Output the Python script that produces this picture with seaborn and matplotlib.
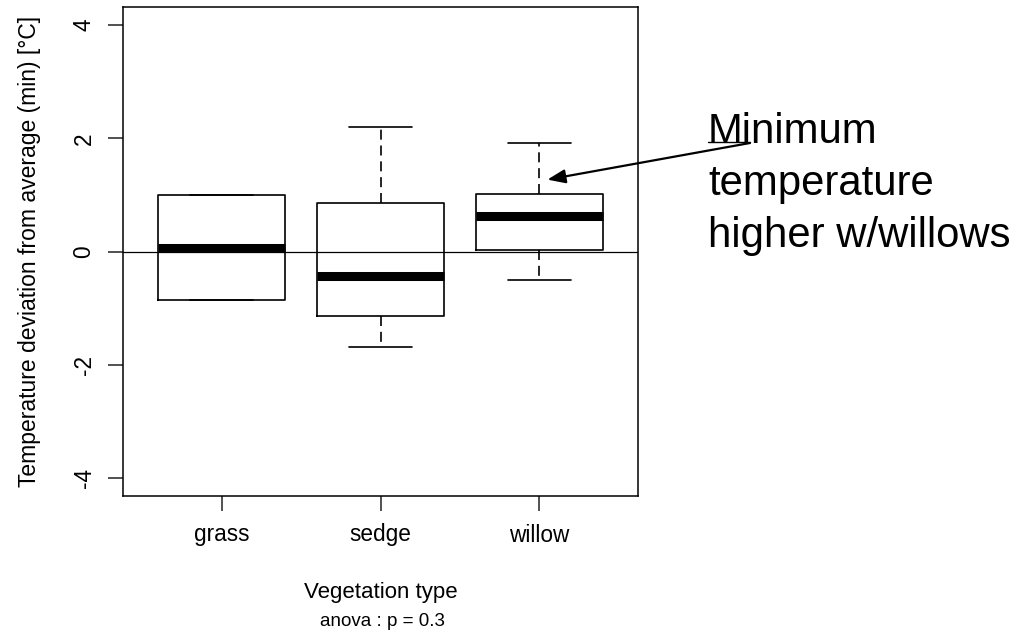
import matplotlib
matplotlib.use("Agg")
import matplotlib.pyplot as plt
from matplotlib.lines import Line2D
import seaborn as sns
import pandas as pd
import numpy as np

# Five-number summaries (min, Q1, median, Q3, max)
categories = ["grass", "sedge", "willow"]
grass = [-0.86, -0.86, 0.07, 1.00, 1.00]
sedge = [-1.69, -1.14, -0.44, 0.85, 2.20]
willow = [-0.51, 0.02, 0.62, 1.02, 1.92]
yticks = [-4, -2, 0, 2, 4]

df = pd.DataFrame({
    "veg": np.repeat(categories, 5),
    "value": grass + sedge + willow,
})

sns.set_theme(style="ticks")
plt.rcParams["font.family"] = ["Liberation Sans", "DejaVu Sans"]
plt.rcParams["text.color"] = "black"
plt.rcParams["axes.labelcolor"] = "black"

fig = plt.figure(figsize=(10.33, 6.35), dpi=100)
ax = fig.add_axes([123 / 1033, 1 - 496 / 635, 515 / 1033, 489 / 635])

sns.boxplot(
    data=df, x="veg", y="value", order=categories,
    whis=(0, 100), fill=False, color="black", width=0.8,
    linewidth=1.2, showfliers=False, ax=ax,
    medianprops=dict(linewidth=6.5, solid_capstyle="butt", color="black"),
    whiskerprops=dict(linestyle=(0, (6, 3.5)), color="black"),
    capprops=dict(color="black"),
    boxprops=dict(color="black"),
)

ax.axhline(0, color="black", linewidth=0.9, zorder=0.5)

ax.set_xlim(-0.62, 2.62)
ax.set_ylim(-4.32, 4.32)
ax.set_yticks(yticks)
ax.set_yticklabels([str(v) for v in yticks])

for sp in ax.spines.values():
    sp.set_visible(True)
    sp.set_color("black")
    sp.set_linewidth(1.1)

ax.tick_params(axis="both", length=10.8, width=1.1, color="#222222",
               labelsize=16.3, labelcolor="black")
ax.tick_params(axis="x", pad=9)
ax.tick_params(axis="y", pad=9, labelrotation=90)
for lab in ax.get_yticklabels():
    lab.set_va("center")

ax.set_ylabel("Temperature deviation from average (min) [°C]", fontsize=16.5)
ax.yaxis.set_label_coords(-0.16, 0.5)
ax.set_xlabel("Vegetation type", fontsize=16)
ax.xaxis.set_label_coords(0.5, -0.175)

fig.text(382 / 1033, 1 - 621 / 635, "anova : p = 0.3", fontsize=13.5,
         ha="center", va="center")

# Annotation
ax.annotate("", xy=(2.05, 1.27), xycoords="data",
            xytext=(750, 635 - 143), textcoords="figure pixels",
            arrowprops=dict(arrowstyle="-|>,head_length=0.9,head_width=0.35",
                            color="black", lw=1.6, shrinkA=0, shrinkB=0))
fig.add_artist(Line2D([708 / 1033, 750 / 1033], [1 - 142 / 635, 1 - 142 / 635],
                      transform=fig.transFigure, color="black", lw=1.0))
fig.text(708 / 1033, 1 - 112 / 635, "Minimum\ntemperature\nhigher w/willows",
         fontsize=30.2, ha="left", va="top", color="black", linespacing=1.38)

fig.savefig("out.png", dpi=100, facecolor="white")
